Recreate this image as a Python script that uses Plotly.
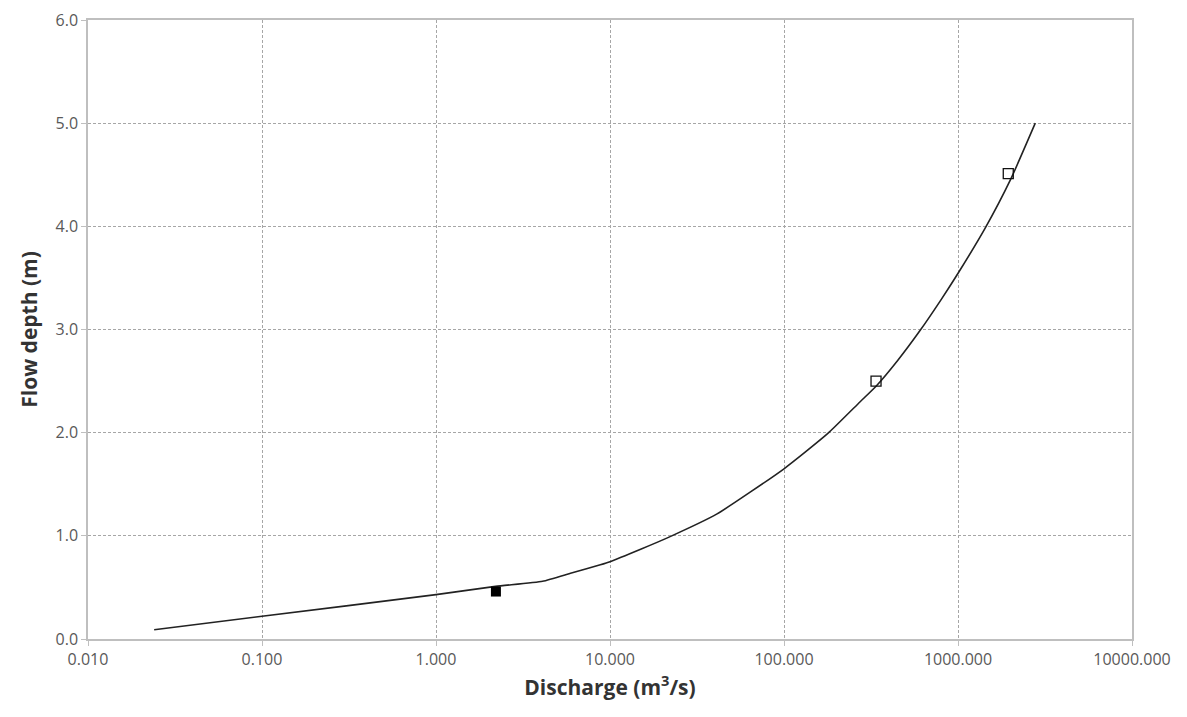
import plotly.graph_objects as go

# Rating curve (discharge m3/s, flow depth m)
curve_q = [0.024, 0.1, 1.0, 2.2, 4.1, 6.0, 8.8, 10.0, 15.0, 22.0, 41.0, 100.0, 178.0, 274.0, 338.0, 450.0, 605.0, 800.0, 1005.0, 1430.0, 2000.0, 2780.0]
curve_h = [0.09, 0.22, 0.43, 0.51, 0.56, 0.64, 0.72, 0.75, 0.87, 0.99, 1.21, 1.65, 1.99, 2.30, 2.45, 2.70, 2.99, 3.29, 3.55, 3.98, 4.45, 5.0]

# Observed points
open_q = [338.0, 1945.0]
open_h = [2.50, 4.51]
filled_q = [2.21]
filled_h = [0.46]

x_tickvals = [0.01, 0.1, 1, 10, 100, 1000, 10000]
x_ticktext = ["0.010", "0.100", "1.000", "10.000", "100.000", "1000.000", "10000.000"]
y_tickvals = [0, 1, 2, 3, 4, 5, 6]
y_ticktext = ["0.0", "1.0", "2.0", "3.0", "4.0", "5.0", "6.0"]

fig = go.Figure()
fig.add_trace(go.Scatter(x=curve_q, y=curve_h, mode="lines", line_shape="spline",
                         line=dict(color="#222222", width=1.6, smoothing=0.5), showlegend=False))
fig.add_trace(go.Scatter(x=open_q, y=open_h, mode="markers",
                         marker=dict(symbol="square-open", size=10, color="#111111",
                                     line=dict(width=1.3, color="#111111")),
                         showlegend=False))
fig.add_trace(go.Scatter(x=filled_q, y=filled_h, mode="markers",
                         marker=dict(symbol="square", size=10, color="#000000"),
                         showlegend=False))

font_family = "Open Sans, Liberation Sans, sans-serif"
fig.update_layout(
    width=1179, height=709,
    margin=dict(l=80, r=55, t=12, b=78, autoexpand=False),
    paper_bgcolor="white", plot_bgcolor="white",
    font=dict(family=font_family, color="#595959", size=15),
)
fig.update_xaxes(
    type="log", range=[-2, 4], automargin=False, ticklabeloverflow="allow",
    tickvals=x_tickvals, ticktext=x_ticktext,
    showgrid=True, gridcolor="#a6a6a6", gridwidth=1, griddash="3px,2px",
    showline=True, linecolor="#bfbfbf", linewidth=1.5, mirror=True,
    ticks="outside", ticklen=5, tickcolor="#bfbfbf",
    tickfont=dict(size=16, color="#595959"),
    zeroline=False,
    title=dict(text="<b>Discharge (m<sup>3</sup>/s)</b>", font=dict(size=21, color="#333333"), standoff=8),
)
fig.update_yaxes(
    range=[0, 6], automargin=False, ticklabeloverflow="allow",
    tickvals=y_tickvals, ticktext=y_ticktext,
    showgrid=True, gridcolor="#a6a6a6", gridwidth=1, griddash="3px,2px",
    showline=True, linecolor="#bfbfbf", linewidth=1.5, mirror=True,
    ticks="outside", ticklen=5, tickcolor="#bfbfbf",
    tickfont=dict(size=16, color="#595959"),
    zeroline=False,
    title=dict(text="<b>Flow depth (m)</b>", font=dict(size=21, color="#333333"), standoff=12),
)

fig.write_html("out.html")
